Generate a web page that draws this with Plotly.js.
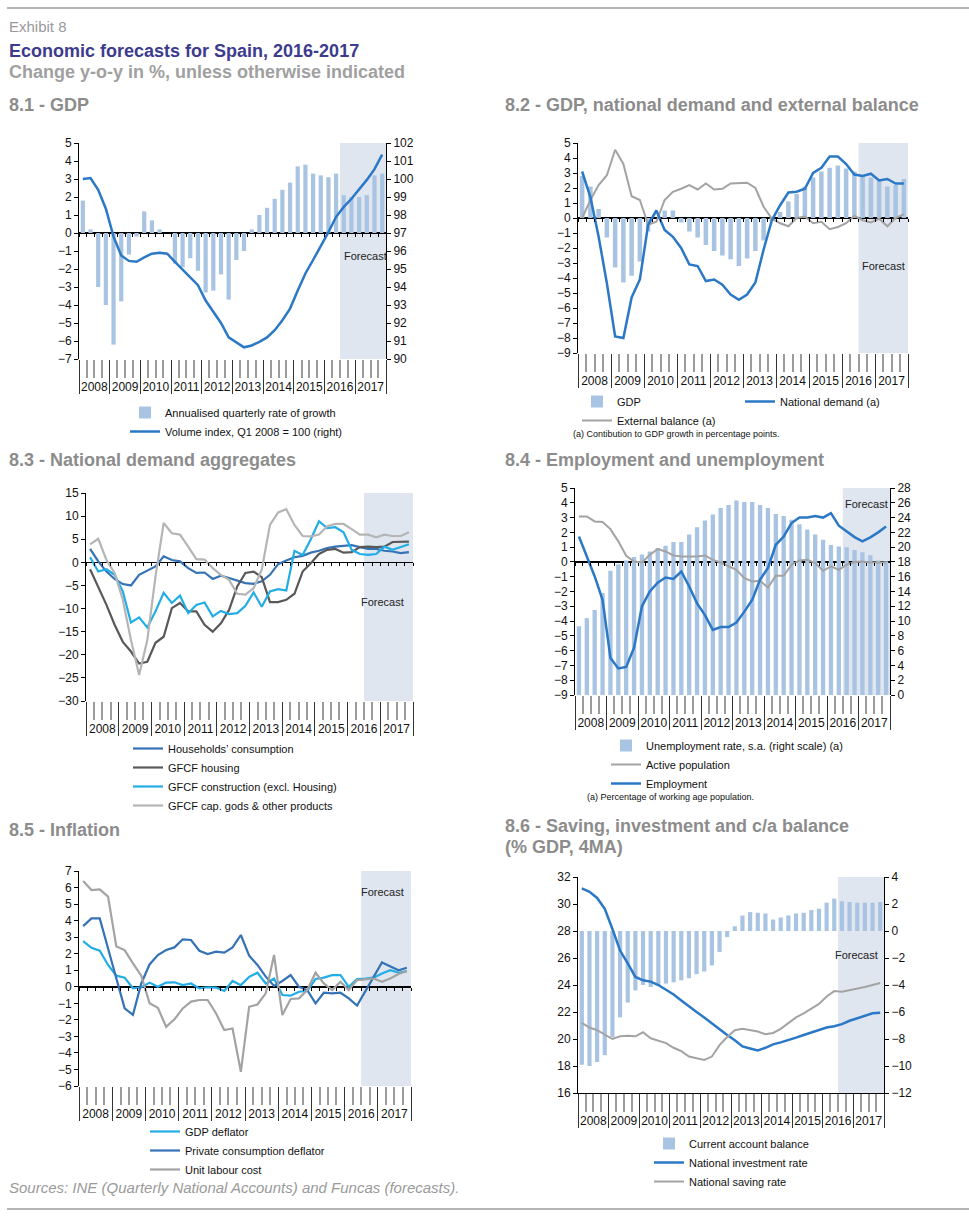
<!DOCTYPE html>
<html><head><meta charset="utf-8">
<script src="https://cdn.plot.ly/plotly-3.0.1.min.js"></script>
<style>html,body{margin:0;padding:0;background:#fff}#chart{width:969px;height:1216px}</style>
</head><body><div id="chart"></div>
<script>
// ---------------- DATA ----------------
const years = ['2008','2009','2010','2011','2012','2013','2014','2015','2016','2017'];
const quarterLabels = years.flatMap(y => ['Q1','Q2','Q3','Q4'].map(q => y + ' ' + q));
const forecastFrom = '2016 Q3';

// 8.1 GDP
const gdpQoqAnnualised = [1.8,0.2,-3.0,-4.0,-6.2,-3.8,-1.2,-0.2,1.2,0.7,0.2,0.0,-1.7,-1.9,-1.4,-2.1,-3.3,-3.2,-2.3,-3.7,-1.5,-1.0,0.2,1.0,1.4,1.9,2.4,2.8,3.7,3.8,3.3,3.2,3.1,3.3,2.1,2.0,2.0,2.1,3.2,3.3];
const gdpVolumeIndex = [100.0,100.05,99.4,98.35,96.8,95.75,95.45,95.4,95.65,95.85,95.9,95.85,95.4,94.95,94.55,94.1,93.25,92.6,92.0,91.2,90.9,90.65,90.75,90.95,91.2,91.6,92.15,92.8,93.8,94.75,95.5,96.25,97.05,97.9,98.45,98.9,99.4,99.95,100.55,101.35];

// 8.2 GDP, national demand and external balance
const gdpYoy = [2.8,2.1,0.6,-1.3,-3.3,-4.3,-3.85,-2.9,-0.9,0.0,0.5,0.5,-0.3,-0.9,-1.3,-1.8,-2.2,-2.5,-2.75,-3.2,-2.7,-2.2,-1.5,-0.2,0.4,1.1,1.6,2.1,2.7,3.1,3.35,3.5,3.3,3.1,2.85,2.7,2.5,2.1,2.2,2.6];
const nationalDemand = [3.1,1.4,-1.25,-4.35,-7.9,-8.0,-5.3,-4.1,-0.45,0.5,-0.8,-1.25,-2.0,-3.1,-3.2,-4.2,-4.1,-4.45,-5.1,-5.45,-5.1,-4.3,-2.1,-0.15,0.85,1.7,1.75,1.95,3.0,3.35,4.1,4.1,3.6,2.9,2.8,2.95,2.5,2.6,2.3,2.3];
const externalBalance = [0.0,1.2,2.2,2.85,4.55,3.6,1.45,1.2,-0.45,-0.25,1.2,1.75,1.95,2.2,1.9,2.3,1.9,1.95,2.3,2.3,2.35,2.0,0.75,-0.05,-0.35,-0.55,0.0,0.1,-0.35,-0.25,-0.75,-0.6,-0.35,0.15,-0.15,-0.3,-0.05,-0.55,0.0,0.25];

// 8.3 National demand aggregates
const householdsConsumption = [2.9,0.2,-2.0,-3.6,-4.7,-5.0,-2.7,-1.8,-0.9,1.3,0.5,0.2,-1.25,-2.3,-2.2,-3.6,-2.9,-3.4,-4.0,-4.5,-4.65,-4.1,-2.7,-0.4,0.4,1.1,1.4,2.1,2.5,3.1,3.4,3.6,3.7,3.3,2.9,2.9,2.5,2.35,2.0,2.2];
const gfcfHousing = [-1.5,-5.2,-9.2,-13.5,-17.2,-19.3,-21.9,-21.5,-17.4,-16.1,-9.9,-8.8,-10.6,-10.6,-13.5,-15.0,-13.2,-10.3,-5.2,-2.3,-2.0,-3.2,-8.6,-8.6,-8.1,-6.8,-2.0,-0.2,1.8,2.7,2.9,2.1,2.2,3.3,3.4,3.3,3.4,4.4,4.4,4.5];
const gfcfConstruction = [1.1,-2.0,-1.5,-2.7,-6.3,-13.0,-11.9,-14.1,-10.6,-6.6,-8.8,-7.2,-11.0,-9.2,-8.7,-11.7,-10.5,-11.2,-11.0,-9.4,-6.5,-9.6,-6.3,-5.8,-6.1,2.5,1.6,5.0,8.9,7.4,7.6,6.5,2.7,1.8,1.6,1.8,3.4,2.7,3.3,3.9];
const gfcfCapGoods = [3.9,5.1,0.5,-2.3,-8.1,-16.8,-24.4,-16.8,-3.1,8.5,6.3,6.0,3.4,0.7,0.6,-1.25,-2.7,-3.8,-6.8,-7.0,-5.6,-1.6,8.1,10.8,11.5,8.1,5.7,5.6,6.0,7.8,8.3,8.3,7.2,6.0,6.0,5.4,6.0,5.7,5.7,6.5];

// 8.4 Employment and unemployment
const unemploymentRate = [9.3,10.4,11.5,13.8,16.8,17.7,18.2,18.65,19.0,19.4,19.9,20.2,20.7,20.7,21.7,22.7,23.6,24.4,25.3,25.7,26.3,26.1,26.1,25.7,25.3,24.5,24.2,23.7,23.1,22.4,21.7,21.0,20.3,20.1,20.0,19.6,19.3,18.9,18.2,18.1];
const activePopulation = [3.08,3.08,2.74,2.7,2.22,1.39,0.42,0.03,-0.04,0.48,0.87,0.71,0.44,0.37,0.37,0.37,0.44,0.14,-0.04,-0.26,-0.53,-1.1,-1.32,-1.28,-1.73,-0.94,-0.94,-0.19,0.1,0.14,-0.08,-0.6,-0.3,-0.53,-0.19,-0.01,0.03,-0.04,-0.04,-0.04];
const employment = [1.72,0.37,-0.98,-2.56,-6.5,-7.2,-7.1,-5.8,-3.0,-2.0,-1.4,-1.05,-1.15,-0.65,-1.66,-2.8,-3.6,-4.6,-4.4,-4.4,-4.1,-3.36,-2.57,-1.2,-0.4,1.16,1.72,2.63,3.0,3.0,3.1,3.0,3.3,2.45,2.06,1.68,1.39,1.66,2.0,2.4];

// 8.5 Inflation
const gdpDeflator = [2.76,2.36,2.18,1.32,0.67,0.55,-0.09,-0.03,0.25,0.0,0.25,0.27,0.1,0.2,-0.1,-0.03,-0.05,-0.25,0.35,0.1,0.6,0.85,0.2,0.5,-0.5,-0.54,-0.3,-0.25,0.47,0.55,0.7,0.7,0.0,0.47,0.5,0.55,0.8,1.0,0.85,0.95];
const privateConsumptionDeflator = [3.67,4.13,4.13,2.38,0.5,-1.3,-1.7,0.2,1.35,1.92,2.22,2.38,2.87,2.83,2.18,1.98,2.12,2.06,2.38,3.13,1.88,1.32,0.61,0.05,0.35,0.71,0.0,-0.2,-1.0,-0.36,-0.4,-0.36,-0.7,-1.14,-0.3,0.6,1.47,1.25,1.0,1.15];
const unitLabourCost = [6.4,5.85,5.89,5.45,2.43,2.22,1.42,0.67,-1.0,-1.27,-2.42,-1.97,-1.31,-0.9,-0.8,-0.8,-1.6,-2.62,-2.52,-5.14,-1.21,-1.07,-0.4,1.92,-1.71,-0.74,-0.7,-0.2,0.85,0.2,-0.2,0.3,-0.2,0.4,0.45,0.5,0.3,0.5,0.77,0.95];

// 8.6 Saving, investment and c/a balance
const currentAccount = [-9.9,-10.0,-9.7,-9.2,-7.85,-6.4,-5.3,-4.4,-4.0,-4.15,-4.0,-3.9,-3.8,-3.65,-3.5,-3.2,-3.0,-2.55,-1.55,-0.45,0.35,1.15,1.4,1.35,1.3,0.85,1.0,1.15,1.3,1.35,1.55,1.65,2.1,2.4,2.2,2.15,2.1,2.1,2.1,2.15];
const investmentRate = [31.15,30.9,30.45,29.65,28.15,26.55,25.6,24.6,24.35,24.25,24.0,23.65,23.3,22.85,22.4,22.0,21.6,21.15,20.7,20.3,19.9,19.45,19.3,19.15,19.35,19.6,19.75,19.9,20.1,20.3,20.5,20.7,20.85,20.95,21.1,21.35,21.55,21.75,21.9,21.95];
const savingRate = [21.2,20.85,20.65,20.35,20.0,20.2,20.25,20.2,20.5,20.05,19.85,19.7,19.35,19.1,18.7,18.55,18.45,18.7,19.55,20.15,20.65,20.75,20.65,20.55,20.35,20.45,20.75,21.2,21.6,21.9,22.25,22.6,23.15,23.55,23.5,23.6,23.75,23.85,24.0,24.15];

// ---------------- STYLE / LAYOUT HELPERS ----------------
const W = 969, H = 1216;
const FONT = 'Liberation Sans, Arial, Helvetica, sans-serif';
const fx = p => p / W;
const fy = p => 1 - p / H;
const C = {
  bar: '#a9c4e2', blue: '#2a78c6', midBlue: '#3572b6', cyan: '#22ade6',
  gray: '#a3a3a3', dark: '#595959', light: '#b5b5b5', shade: '#dfe6ef',
  title: '#8c8c8c', navy: '#3d3b8e'
};
const qIdx = quarterLabels.map((_, i) => i);
const fcIdx = quarterLabels.indexOf(forecastFrom) - 0.5;
const xRange = [-0.5, quarterLabels.length - 0.5];
const yearBounds = years.map((_, i) => i * 4 - 0.5).concat([years.length * 4 - 0.5]);
const allBounds = qIdx.map(i => i - 0.5).concat([quarterLabels.length - 0.5]);
const quarterTicks = qIdx.slice(0, -1).map(i => i + 0.5).filter(v => !yearBounds.includes(v));
const yearCenters = years.map((_, i) => i * 4 + 1.5);

const xn = n => n === 1 ? 'x' : 'x' + n;
const yn = n => n === 1 ? 'y' : 'y' + n;
const xa = n => n === 1 ? 'xaxis' : 'xaxis' + n;
const ya = n => n === 1 ? 'yaxis' : 'yaxis' + n;

const panels = [
  {p:1, px:[79,386], py:[143,359], base:{side:'left', range:[-7,5], dtick:1, zero:true}, over:{side:'right', range:[90,102], dtick:1}, xline:false, fc:[365,256]},
  {p:2, px:[578,908], py:[143,353], base:{side:'left', range:[-9,5], dtick:1, zero:true}, xline:false, fc:[883,266]},
  {p:3, px:[86,413], py:[493,701], base:{side:'left', range:[-30,15], dtick:5, zero:true}, xline:false, fc:[382,602]},
  {p:4, px:[575,890], py:[488,695], base:{side:'right', range:[0,28], dtick:2, zero:false}, over:{side:'left', range:[-9,5], dtick:1, zero:true}, xline:false, fc:[866,504]},
  {p:5, px:[79,411], py:[871,1086], base:{side:'left', range:[-6,7], dtick:1, zero:true}, xline:false, fc:[382,892]},
  {p:6, px:[578,884], py:[877,1093], base:{side:'right', range:[-12,4], dtick:2, zero:false}, over:{side:'left', range:[16,32], dtick:2, zero:false}, xline:true, fc:[856,955]}
];
const overNum = {1:7, 4:10, 6:12};

const layout = {
  width: W, height: H, margin: {l:0, r:0, t:0, b:0},
  paper_bgcolor: '#fff', plot_bgcolor: 'rgba(0,0,0,0)',
  font: {family: FONT, size: 12, color: '#000'},
  showlegend: true, hovermode: false,
  shapes: [], annotations: []
};
const tickFont = {family: FONT, size: 12, color: '#111'};
const axisHolders = [];   // empty carriers so the overlay (separator / year label / zero tick) axes get drawn
const emptyY = qIdx.map(() => null);
const holder = (xNum, yNum) => ({type:'scatter', mode:'lines', x:qIdx, y:emptyY,
  xaxis:xn(xNum), yaxis:yn(yNum), showlegend:false, hoverinfo:'skip', line:{width:0}});

panels.forEach(pn => {
  const p = pn.p;
  const dom = [fx(pn.px[0]), fx(pn.px[1])];
  const ydom = [fy(pn.py[1]), fy(pn.py[0])];
  layout[xa(p)] = {domain: dom, anchor: yn(p), range: xRange, showgrid:false, zeroline:false,
    showline: pn.xline, linecolor:'#000', linewidth:1,
    tickmode:'array', tickvals: quarterTicks, ticks:'outside', ticklen:18, tickwidth:2, tickcolor:'#9c9c9c',
    showticklabels:false, fixedrange:true};
  layout[xa(p+6)] = {overlaying: xn(p), anchor: yn(p), domain: dom, range: xRange, showgrid:false, zeroline:false, showline:false,
    tickmode:'array', tickvals: yearBounds, ticks:'outside', ticklen:34, tickwidth:1, tickcolor:'#333',
    showticklabels:false};
  layout[xa(p+12)] = {overlaying: xn(p), anchor: yn(p), domain: dom, range: xRange, showgrid:false, zeroline:false, showline:false,
    tickmode:'array', tickvals: yearCenters, ticktext: years, ticks:'outside', ticklen:17, tickcolor:'rgba(0,0,0,0)',
    tickfont: tickFont};
  axisHolders.push(holder(p+6, p), holder(p+12, p));
  const b = pn.base;
  layout[ya(p)] = {domain: ydom, anchor: xn(p), side: b.side, range: b.range, dtick: b.dtick, tick0: b.range[0],
    showgrid:false, zeroline: b.zero, zerolinecolor:'#000', zerolinewidth:1.5,
    showline:true, linecolor:'#000', linewidth:1, ticks:'outside', ticklen:4, tickcolor:'#000', tickfont: tickFont, fixedrange:true};
  let zeroAxisRange = b.zero ? b.range : null;
  if (pn.over) {
    const o = pn.over;
    layout[ya(overNum[p])] = {overlaying: yn(p), anchor: xn(p), side: o.side, range: o.range, dtick: o.dtick, tick0: o.range[0],
      showgrid:false, zeroline: !!o.zero, zerolinecolor:'#000', zerolinewidth:1.5,
      showline:true, linecolor:'#000', linewidth:1, ticks:'outside', ticklen:4, tickcolor:'#000', tickfont: tickFont};
    if (o.zero) zeroAxisRange = o.range;
  }
  // small tick marks hanging under the zero line
  if (zeroAxisRange) {
    const frac = (0 - zeroAxisRange[0]) / (zeroAxisRange[1] - zeroAxisRange[0]);
    layout[xa(p+18)] = {overlaying: xn(p), anchor:'free', position: ydom[0] + frac * (ydom[1] - ydom[0]),
      domain: dom, range: xRange, showgrid:false, zeroline:false, showline:false,
      tickmode:'array', tickvals: allBounds, ticks:'outside', ticklen:3, tickwidth:1, tickcolor:'#000', showticklabels:false};
    axisHolders.push(holder(p+18, p));
  }
  layout.shapes.push({type:'rect', layer:'below', xref: xn(p), yref: yn(p) + ' domain',
    x0: fcIdx, x1: xRange[1], y0: 0, y1: 1, fillcolor: C.shade, line:{width:0}});
  layout.annotations.push({text:'Forecast', xref:'paper', yref:'paper', x: fx(pn.fc[0]), y: fy(pn.fc[1]),
    xanchor:'center', yanchor:'middle', showarrow:false, font:{family:FONT, size:11, color:'#222'}});
});

// ---------------- TRACES ----------------
const bar = (name, y, p, yaxisNum, legend) => ({type:'bar', name, x:qIdx, y, width:0.55,
  marker:{color:C.bar, line:{width:0}}, xaxis:xn(p), yaxis:yn(yaxisNum), legend, hoverinfo:'skip', showlegend:true});
const line = (name, y, color, w, p, yaxisNum, legend) => ({type:'scatter', mode:'lines', name, x:qIdx, y,
  line:{color, width:w}, xaxis:xn(p), yaxis:yn(yaxisNum), legend, hoverinfo:'skip', showlegend:true});

const data = [
  bar('Annualised quarterly rate of growth', gdpQoqAnnualised, 1, 1, 'legend'),
  line('Volume index, Q1 2008 = 100 (right)', gdpVolumeIndex, C.blue, 2.5, 1, 7, 'legend'),

  bar('GDP', gdpYoy, 2, 2, 'legend2'),
  line('External balance (a)', externalBalance, C.gray, 2, 2, 2, 'legend2'),
  line('National demand (a)', nationalDemand, C.blue, 2.5, 2, 2, 'legend3'),

  line('Households\u2019 consumption', householdsConsumption, C.midBlue, 2.2, 3, 3, 'legend4'),
  line('GFCF housing', gfcfHousing, C.dark, 2.2, 3, 3, 'legend4'),
  line('GFCF construction (excl. Housing)', gfcfConstruction, C.cyan, 2.2, 3, 3, 'legend4'),
  line('GFCF cap. gods & other products', gfcfCapGoods, C.light, 2.2, 3, 3, 'legend4'),

  bar('Unemployment rate, s.a. (right scale) (a)', unemploymentRate, 4, 4, 'legend5'),
  line('Active population', activePopulation, C.gray, 2, 4, 10, 'legend5'),
  line('Employment', employment, C.blue, 2.5, 4, 10, 'legend5'),

  line('GDP deflator', gdpDeflator, C.cyan, 2.2, 5, 5, 'legend6'),
  line('Private consumption deflator', privateConsumptionDeflator, C.midBlue, 2.2, 5, 5, 'legend6'),
  line('Unit labour cost', unitLabourCost, C.gray, 2.2, 5, 5, 'legend6'),

  bar('Current account balance', currentAccount, 6, 6, 'legend7'),
  line('National investment rate', investmentRate, C.blue, 2.5, 6, 12, 'legend7'),
  line('National saving rate', savingRate, C.gray, 2, 6, 12, 'legend7')
].concat(axisHolders);

// ---------------- LEGENDS ----------------
const leg = (x, y) => ({x: fx(x), y: fy(y), xanchor:'left', yanchor:'top', bgcolor:'rgba(0,0,0,0)',
  font:{family:FONT, size:11, color:'#111'}, itemwidth:30, tracegroupgap:0, traceorder:'normal', itemclick:false, itemdoubleclick:false});
layout.legend = leg(125, 398);
layout.legend2 = leg(577, 387);
layout.legend3 = leg(740, 387);
layout.legend4 = leg(128, 734);
layout.legend5 = leg(606, 731);
layout.legend6 = leg(145, 1117);
layout.legend7 = leg(649, 1129);

// ---------------- TEXTS ----------------
const txt = (text, x, y, size, color, bold) => ({text: bold ? '<b>' + text + '</b>' : text,
  xref:'paper', yref:'paper', x: fx(x), y: fy(y), xanchor:'left', yanchor:'middle', showarrow:false,
  font:{family:FONT, size, color}});
layout.annotations.push(
  txt('Exhibit 8', 7, 27, 15, '#9a9a9a', false),
  txt('Economic forecasts for Spain, 2016-2017', 7, 51, 18, C.navy, true),
  txt('Change y-o-y in %, unless otherwise indicated', 7, 72, 18, '#a0a0a0', true),
  txt('8.1 - GDP', 7, 105, 18, C.title, true),
  txt('8.2 - GDP, national demand and external balance', 503, 105, 18, C.title, true),
  txt('8.3 - National demand aggregates', 7, 460, 18, C.title, true),
  txt('8.4 - Employment and unemployment', 503, 460, 18, C.title, true),
  txt('8.5 - Inflation', 7, 830, 18, C.title, true),
  txt('8.6 - Saving, investment and c/a balance', 503, 826, 18, C.title, true),
  txt('(% GDP, 4MA)', 503, 847, 18, C.title, true),
  txt('(a) Contibution to GDP growth in percentage points.', 571, 434, 9, '#111', false),
  txt('(a) Percentage of working age population.', 585, 797, 9, '#111', false),
  txt('<i>Sources: INE (Quarterly National Accounts) and Funcas (forecasts).</i>', 7, 1187, 15, '#9a9a9a', false)
);
layout.shapes.push(
  {type:'line', xref:'paper', yref:'paper', x0: fx(7), x1: 1, y0: fy(8), y1: fy(8), line:{color:'#b5b5b5', width:2}},
  {type:'line', xref:'paper', yref:'paper', x0: fx(7), x1: 1, y0: fy(1209), y1: fy(1209), line:{color:'#b5b5b5', width:2}}
);

Plotly.newPlot('chart', data, layout, {displayModeBar:false, staticPlot:true});
</script>
</body></html>
